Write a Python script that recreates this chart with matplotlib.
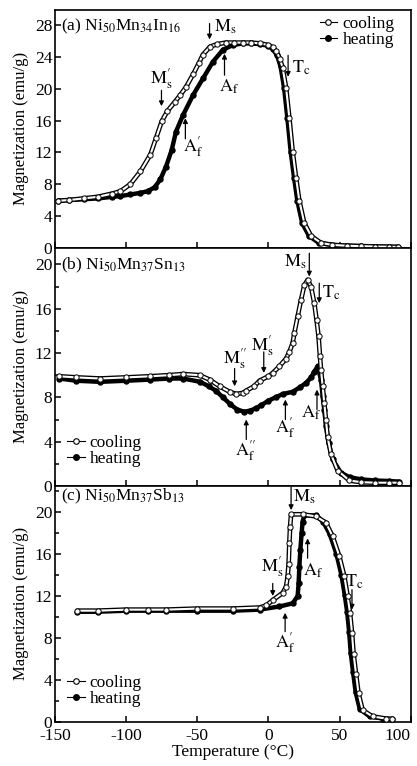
import matplotlib
matplotlib.use("Agg")
import matplotlib.pyplot as plt
from matplotlib.lines import Line2D
from matplotlib.ticker import MultipleLocator

plt.rcParams['font.family'] = ['Liberation Serif', 'DejaVu Serif']
plt.rcParams['mathtext.fontset'] = 'stix'
plt.rcParams['font.size'] = 12
plt.rcParams['axes.unicode_minus'] = False

# ---- (a) Ni50Mn34In16 ----
t_a_cool = [-147.7, -140, -130, -120, -110, -104, -97, -90, -83, -79, -75, -71, -66, -62, -58,
            -53, -49, -46, -41, -36, -30, -24, -18, -12, -6, 0, 3, 5.5, 8, 10, 12.4, 14.7, 17,
            19.4, 21.7, 25.2, 29.9, 36.9, 45, 55, 65, 75, 85, 90.7]
m_a_cool = [5.9, 6.0, 6.2, 6.4, 6.8, 7.1, 8.0, 9.6, 11.7, 13.8, 15.9, 17.2, 18.3, 19.2, 20.2,
            21.8, 23.2, 24.3, 25.3, 25.6, 25.8, 25.8, 25.8, 25.8, 25.7, 25.5, 25.2, 24.7, 23.8,
            22.6, 20.1, 16.3, 12.1, 8.8, 5.9, 3.1, 1.5, 0.6, 0.35, 0.25, 0.2, 0.15, 0.12, 0.1]
t_a_heat = [-147.7, -140, -130, -120, -110, -104, -97, -90, -85, -80, -76, -72, -68, -65, -60,
            -53, -46, -39, -32, -25, -18, -12, -6, 0, 3, 6, 8.5, 11, 13.3, 15.6, 18, 20.3, 23.7,
            28.4, 35.4, 45, 55, 65, 75, 85, 90.7]
m_a_heat = [5.9, 6.0, 6.1, 6.2, 6.4, 6.5, 6.7, 6.9, 7.1, 7.6, 8.6, 10.2, 12.3, 14.6, 16.7,
            19.2, 21.3, 23.4, 24.9, 25.5, 25.7, 25.7, 25.6, 25.4, 25.0, 24.2, 22.8, 20.1, 16.3,
            12.1, 8.8, 5.9, 3.1, 1.5, 0.6, 0.35, 0.25, 0.2, 0.15, 0.12, 0.1]

# ---- (b) Ni50Mn37Sn13 ----
t_b_cool = [-147, -135, -118.5, -100, -83.4, -70, -60, -48.4, -41.4, -34.4, -27.3, -22.7, -18,
            -15.6, -10, -6.3, 0, 3, 7.7, 12.4, 14.7, 17, 18.2, 20.5, 22.9, 25.2, 27.5, 29.9,
            32.2, 33.8, 35.2, 36.2, 36.9, 38.1, 39.2, 40.4, 41.6, 43.9, 48.6, 56.8, 65, 75, 85,
            91.8]
m_b_cool = [9.9, 9.8, 9.7, 9.8, 9.9, 10.0, 10.1, 10.0, 9.6, 9.0, 8.5, 8.3, 8.4, 8.6, 9.0, 9.5,
            9.9, 10.2, 10.8, 11.5, 12.1, 12.9, 13.8, 15.3, 16.8, 18.1, 18.6, 18.0, 16.5, 15.0,
            13.5, 11.7, 10.5, 9.0, 7.5, 6.0, 4.4, 2.9, 1.4, 0.5, 0.35, 0.3, 0.3, 0.3]
t_b_heat = [-147, -135, -118.5, -100, -83.4, -70, -60, -48, -42, -37, -32, -27, -22, -17, -13,
            -9, -5, 0, 5, 10, 17, 22, 26.4, 30, 32.2, 34.5, 36.9, 38.1, 39.2, 40.4, 42.3, 45.1,
            50.9, 57, 65, 75, 85, 91.8]
m_b_heat = [9.7, 9.5, 9.4, 9.5, 9.6, 9.7, 9.7, 9.4, 9.0, 8.6, 8.0, 7.4, 6.9, 6.7, 6.8, 7.0,
            7.3, 7.7, 8.0, 8.3, 8.5, 8.9, 9.3, 9.8, 10.3, 10.8, 9.6, 8.1, 6.9, 5.4, 3.9, 2.4,
            1.2, 0.8, 0.6, 0.5, 0.45, 0.4]

# ---- (c) Ni50Mn37Sb13 ----
t_c_cool = [-134.4, -120, -100, -85, -71.7, -50, -25, -6.3, -1.6, 3.0, 10.0, 12.4, 13.5, 14.2,
            14.7, 15.2, 15.9, 24.0, 33.4, 40.4, 45.1, 49.8, 53.3, 55.6, 57.3, 58.7, 59.8, 61.5,
            63.3, 66.2, 73.2, 82.5, 87.1]
m_c_cool = [10.6, 10.6, 10.7, 10.7, 10.7, 10.8, 10.8, 10.9, 11.1, 11.6, 12.3, 12.9, 13.9, 15.1,
            17.1, 18.6, 19.8, 19.8, 19.6, 19.0, 17.7, 15.8, 13.9, 12.0, 10.4, 8.5, 6.5, 4.6,
            2.7, 1.1, 0.5, 0.3, 0.25]
t_c_heat = [-134.4, -120, -100, -85, -71.7, -50, -25, -6.3, 7.7, 17.0, 20.5, 21.2, 21.7, 22.4,
            23.3, 24.0, 25.2, 33.4, 38.4, 43.1, 47.8, 51.3, 53.6, 55.3, 56.7, 57.8, 59.5, 61.3,
            64.2, 71.2, 80.5, 87.1]
m_c_heat = [10.5, 10.5, 10.6, 10.6, 10.6, 10.6, 10.6, 10.7, 11.0, 11.3, 12.0, 13.2, 14.8, 16.4,
            18.0, 19.1, 19.7, 19.7, 19.1, 17.9, 16.0, 14.0, 12.1, 10.5, 8.6, 6.6, 4.7, 2.8,
            1.2, 0.5, 0.3, 0.25]

x_ticks = [-150, -100, -50, 0, 50, 100]
x_ticklabels = ['-150', '-100', '-50', '0', '50', '100']

titles = [r'(a) Ni$_{50}$Mn$_{34}$In$_{16}$',
          r'(b) Ni$_{50}$Mn$_{37}$Sn$_{13}$',
          r'(c) Ni$_{50}$Mn$_{37}$Sb$_{13}$']
title_y = [27.8, 19.9, 21.5]
ylims = [29.9, 21.5, 22.5]

MS = r'$\mathrm{M_s}$'
MS1 = r'$\mathrm{M}_\mathrm{s}^{\prime}$'
MS2 = r'$\mathrm{M}_\mathrm{s}^{\prime\prime}$'
AF = r'$\mathrm{A_f}$'
AF1 = r'$\mathrm{A}_\mathrm{f}^{\prime}$'
AF2 = r'$\mathrm{A}_\mathrm{f}^{\prime\prime}$'
TC = r'$\mathrm{T_c}$'

# arrows: (x, tail y, head y); labels: (text, x, y, ha)
arrows = [
    [(-41.4, 28.2, 26.2), (-75.2, 19.8, 17.8), (-30.9, 21.7, 24.4), (-58.4, 13.7, 16.3),
     (13.8, 24.2, 21.5)],
    [(28.7, 21.0, 18.9), (35.7, 18.3, 16.5), (-23.8, 10.6, 9.0), (-3.3, 12.1, 10.2),
     (-15.6, 4.2, 6.0), (11.9, 6.0, 7.8), (34.1, 6.9, 8.7)],
    [(15.9, 22.4, 20.2), (3.0, 13.2, 12.0), (27.5, 15.6, 17.5), (11.7, 8.6, 10.4),
     (58.7, 12.6, 10.7)],
]
labels = [
    [(MS, -38.5, 27.8, 'left'), (MS1, -75.2, 21.3, 'center'), (AF, -27.8, 20.2, 'center'),
     (AF1, -53.1, 12.7, 'center'), (TC, 16.5, 22.6, 'left')],
    [(MS, 26.5, 20.2, 'right'), (TC, 37.5, 17.4, 'left'), (MS2, -23.1, 11.5, 'center'),
     (MS1, -4.0, 12.7, 'center'), (AF2, -15.6, 3.2, 'center'), (AF1, 11.9, 5.3, 'center'),
     (AF, 29.9, 6.6, 'center')],
    [(MS, 17.5, 21.5, 'left'), (MS1, 3.0, 14.8, 'center'), (AF, 31.5, 14.4, 'center'),
     (AF1, 11.7, 7.6, 'center'), (TC, 60.6, 13.4, 'center')],
]
legend_pos = [(0.715, 0.908), (0.005, 0.148), (0.005, 0.129)]

data = [(t_a_cool, m_a_cool, t_a_heat, m_a_heat),
        (t_b_cool, m_b_cool, t_b_heat, m_b_heat),
        (t_c_cool, m_c_cool, t_c_heat, m_c_heat)]

fig = plt.figure(figsize=(4.17, 7.66), dpi=100)
boxes = [(0.132, 0.6766, 0.853, 0.3103),
         (0.132, 0.3655, 0.853, 0.3111),
         (0.132, 0.0578, 0.853, 0.3077)]

h_cool = Line2D([], [], color='k', lw=0.8, marker='o', ms=4, mfc='white', mec='k', mew=0.8)
h_heat = Line2D([], [], color='k', lw=0.8, marker='o', ms=4, mfc='k', mec='k')

for i in range(3):
    ax = fig.add_axes(boxes[i])
    tc, mc, th, mh = data[i]
    ax.plot(th, mh, color='k', lw=3.2, solid_capstyle='round', zorder=2)
    ax.plot(th, mh, 'o', ms=3.6, mfc='k', mec='k', zorder=3)
    ax.plot(tc, mc, color='k', lw=3.4, solid_capstyle='round', zorder=4)
    ax.plot(tc, mc, color='white', lw=1.5, solid_capstyle='round', zorder=5)
    ax.plot(tc, mc, 'o', ms=3.8, mfc='white', mec='k', mew=0.7, zorder=6)

    for x, y0, y1 in arrows[i]:
        ax.annotate('', xy=(x, y1), xytext=(x, y0),
                    arrowprops=dict(arrowstyle='-|>', color='k', lw=0.9,
                                    mutation_scale=7, shrinkA=0, shrinkB=0))
    for txt, x, y, ha in labels[i]:
        ax.text(x, y, txt, ha=ha, va='center', fontsize=13)

    ax.text(-146, title_y[i], titles[i], ha='left', va='center', fontsize=12.5)

    ax.legend([h_cool, h_heat], ['cooling', 'heating'], loc='center left',
              bbox_to_anchor=legend_pos[i], frameon=False, handlelength=1.0,
              handletextpad=0.3, labelspacing=0.0, borderpad=0.1, fontsize=12.5)

    ax.set_xlim(-150, 100)
    ax.set_ylim(0, ylims[i])
    ax.set_xticks(x_ticks)
    ax.yaxis.set_major_locator(MultipleLocator(4))
    if i > 0:
        ax.yaxis.set_minor_locator(MultipleLocator(2))
    ax.tick_params(which='major', direction='in', length=4, width=1.1, labelsize=12.5, pad=2)
    ax.tick_params(which='minor', direction='in', length=3, width=1.1)
    ax.tick_params(axis='x', pad=4.5)
    for s in ax.spines.values():
        s.set_linewidth(1.2)
    ax.set_ylabel('Magnetization (emu/g)', fontsize=12, labelpad=4)
    if i < 2:
        ax.tick_params(labelbottom=False)
    else:
        ax.set_xticklabels(x_ticklabels)
        ax.set_xlabel('Temperature (°C)', fontsize=12.5, labelpad=0)
        ax.get_xticklabels()[-1].set_horizontalalignment('right')

fig.savefig('out.png', dpi=100)
